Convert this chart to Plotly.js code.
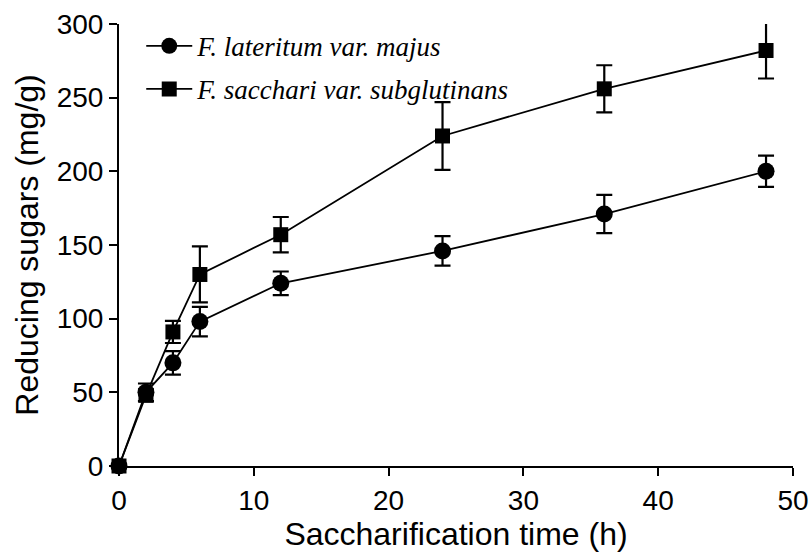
<!DOCTYPE html>
<html>
<head>
<meta charset="utf-8">
<script src="https://cdn.plot.ly/plotly-3.0.1.min.js"></script>
<style>html,body{margin:0;padding:0;background:#fff;}#chart{width:810px;height:559px;}</style>
</head>
<body>
<div id="chart"></div>
<script>
var timeH = [0, 2, 4, 6, 12, 24, 36, 48];
var lateritum = [0, 50, 70, 98, 124, 146, 171, 200];
var lateritumErr = [0, 6, 8, 10, 8, 10, 13, 10.6];
var sacchari = [0, 48, 91, 130, 157, 224, 256, 282];
var sacchariErr = [0, 4, 7.5, 19, 12, 23, 16, 19];
var seriesNames = ['F. lateritum var. majus', 'F. sacchari var. subglutinans'];
var xTicks = [0, 10, 20, 30, 40, 50];
var yTicks = [0, 50, 100, 150, 200, 250, 300];

var traces = [
  {
    x: timeH, y: lateritum, name: seriesNames[0], type: 'scatter', mode: 'lines+markers',
    legendgroup: 'a', cliponaxis: false,
    line: {color: '#000', width: 1.8},
    marker: {symbol: 'circle', size: 17, color: '#000'},
    error_y: {type: 'data', array: lateritumErr, visible: true, color: '#000', thickness: 2.2, width: 8}
  },
  {
    x: timeH, y: sacchari, name: seriesNames[1], type: 'scatter', mode: 'lines+markers',
    legendgroup: 'b', cliponaxis: false,
    line: {color: '#000', width: 1.8},
    marker: {symbol: 'square', size: 15, color: '#000'},
    error_y: {type: 'data', array: sacchariErr, visible: true, color: '#000', thickness: 2.2, width: 8}
  }
];

var layout = {
  width: 810, height: 559,
  margin: {l: 119, r: 17, t: 24, b: 93},
  paper_bgcolor: '#fff', plot_bgcolor: '#fff',
  font: {family: 'Liberation Sans, Arial, sans-serif', color: '#000'},
  showlegend: true,
  legend: {
    x: 0.033, y: 1.005, xanchor: 'left', yanchor: 'top',
    font: {family: 'Liberation Serif, Times New Roman, serif', size: 27, color: '#000', style: 'italic'},
    bgcolor: 'rgba(0,0,0,0)', tracegroupgap: 5, itemwidth: 46
  },
  xaxis: {
    range: [0, 50], tickvals: xTicks, ticktext: xTicks.map(String),
    showline: true, linecolor: '#000', linewidth: 2, mirror: false,
    showgrid: false, zeroline: false,
    ticks: 'outside', ticklen: 8, tickwidth: 2, tickcolor: '#000',
    tickfont: {size: 28, family: 'Liberation Sans, Arial, sans-serif'},
    title: {text: 'Saccharification time (h)', font: {size: 32}, standoff: 5}
  },
  yaxis: {
    range: [0, 300], tickvals: yTicks, ticktext: yTicks.map(String),
    showline: true, linecolor: '#000', linewidth: 2, mirror: false,
    showgrid: false, zeroline: false,
    ticks: 'outside', ticklen: 8, tickwidth: 2, tickcolor: '#000',
    tickfont: {size: 28, family: 'Liberation Sans, Arial, sans-serif'},
    title: {text: 'Reducing sugars (mg/g)', font: {size: 32}, standoff: 8}
  }
};

Plotly.newPlot('chart', traces, layout, {displayModeBar: false, staticPlot: true});
</script>
</body>
</html>
